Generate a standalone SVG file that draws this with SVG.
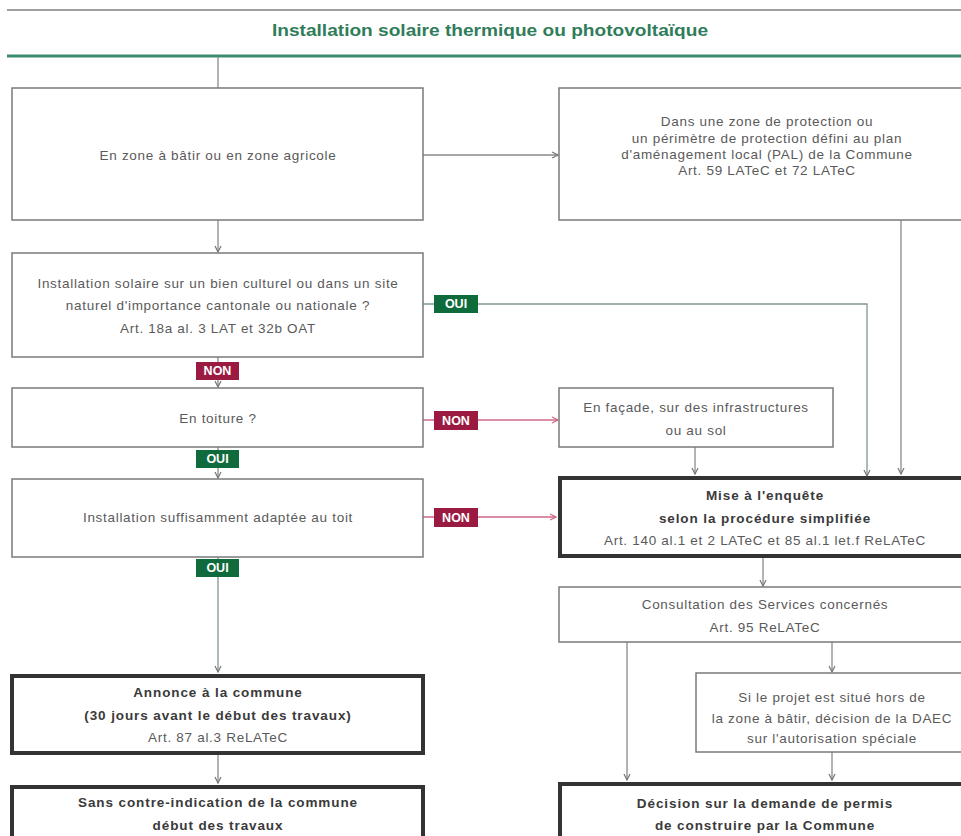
<svg xmlns="http://www.w3.org/2000/svg" width="961" height="836" viewBox="0 0 961 836">
<style>
.bg{fill:#ffffff}
.box{fill:#ffffff;stroke:#7a7a7a;stroke-width:1.5}
.thick{fill:#ffffff;stroke:#333333;stroke-width:4}
.t{font-family:"Liberation Sans",Arial,sans-serif;font-size:13.5px;letter-spacing:0.7px;fill:#5a5a5a;text-anchor:middle;dominant-baseline:central}
.b{font-family:"Liberation Sans",Arial,sans-serif;font-size:13.5px;letter-spacing:0.9px;fill:#3a3a3a;font-weight:bold;text-anchor:middle;dominant-baseline:central}
.title{font-family:"Liberation Sans",Arial,sans-serif;font-size:17px;fill:#2f7d5a;font-weight:bold;text-anchor:middle;dominant-baseline:central}
.lbl{font-family:"Liberation Sans",Arial,sans-serif;font-size:12.5px;fill:#ffffff;font-weight:bold;text-anchor:middle;dominant-baseline:central}
.oui{fill:#0f6b3c}
.non{fill:#9a1a42}
.c{fill:none;stroke:#8a8a8a;stroke-width:1.3}
.cg{fill:none;stroke:#7f9890;stroke-width:1.3}
.cr{fill:none;stroke:#cf6a86;stroke-width:1.3}
</style>
<defs>
<marker id="ah" markerWidth="8" markerHeight="8" refX="7" refY="4" orient="auto" markerUnits="userSpaceOnUse">
<path d="M1,1 L7,4 L1,7" fill="none" stroke="#777777" stroke-width="1.2"/>
</marker>
<marker id="ahr" markerWidth="8" markerHeight="8" refX="7" refY="4" orient="auto" markerUnits="userSpaceOnUse">
<path d="M1,1 L7,4 L1,7" fill="none" stroke="#cf6a86" stroke-width="1.2"/>
</marker>
</defs>
<rect class="bg" x="0" y="0" width="961" height="836"/>

<g id="header">
<line x1="7" y1="10" x2="961" y2="10" stroke="#a0a0a0" stroke-width="2"/>
<text class="title" x="490" y="30" textLength="436" lengthAdjust="spacingAndGlyphs">Installation solaire thermique ou photovoltaïque</text>
<line x1="7" y1="56" x2="961" y2="56" stroke="#3d8b6d" stroke-width="3"/>
</g>

<g id="connectors">
<path class="c" d="M218,57 V88"/>
<path class="c" d="M423,155 H558" marker-end="url(#ah)"/>
<path class="c" d="M218,220 V252" marker-end="url(#ah)"/>
<path class="cg" d="M423,304 H434 M478,304 H867 V476" marker-end="url(#ah)"/>
<path class="c" d="M218,357 V362 M218,380 V387" marker-end="url(#ah)"/>
<path class="cr" d="M423,420 H434 M478,420 H558" marker-end="url(#ahr)"/>
<path class="c" d="M218,447 V450 M218,468 V478" marker-end="url(#ah)"/>
<path class="cr" d="M423,517 H434 M478,517 H556" marker-end="url(#ahr)"/>
<path class="cg" d="M218,557 V559 M218,577 V672" marker-end="url(#ah)"/>
<path class="c" d="M218,753 V783" marker-end="url(#ah)"/>
<path class="c" d="M901,220 V474" marker-end="url(#ah)"/>
<path class="c" d="M695,447 V474" marker-end="url(#ah)"/>
<path class="c" d="M763,557 V586" marker-end="url(#ah)"/>
<path class="c" d="M627,642 V780" marker-end="url(#ah)"/>
<path class="c" d="M832,642 V672" marker-end="url(#ah)"/>
<path class="c" d="M832,752 V780" marker-end="url(#ah)"/>
</g>

<g id="n-zone">
<rect class="box" x="12" y="88" width="411" height="132"/>
<text class="t" x="218" y="155">En zone à bâtir ou en zone agricole</text>
</g>

<g id="n-protection">
<rect class="box" x="559" y="88" width="420" height="132"/>
<text class="t" x="767" y="121">Dans une zone de protection ou</text>
<text class="t" x="767" y="138">un périmètre de protection défini au plan</text>
<text class="t" x="767" y="154">d'aménagement local (PAL) de la Commune</text>
<text class="t" x="767" y="170">Art. 59 LATeC et 72 LATeC</text>
</g>

<g id="n-bien-culturel">
<rect class="box" x="12" y="253" width="411" height="104"/>
<text class="t" x="218" y="283">Installation solaire sur un bien culturel ou dans un site</text>
<text class="t" x="218" y="305">naturel d'importance cantonale ou nationale ?</text>
<text class="t" x="218" y="328">Art. 18a al. 3 LAT et 32b OAT</text>
</g>

<g id="n-toiture">
<rect class="box" x="12" y="388" width="411" height="59"/>
<text class="t" x="218" y="418">En toiture ?</text>
</g>

<g id="n-facade">
<rect class="box" x="559" y="388" width="274" height="59"/>
<text class="t" x="696" y="407">En façade, sur des infrastructures</text>
<text class="t" x="696" y="430">ou au sol</text>
</g>

<g id="n-adaptee">
<rect class="box" x="12" y="479" width="411" height="78"/>
<text class="t" x="218" y="517">Installation suffisamment adaptée au toit</text>
</g>

<g id="n-enquete">
<rect class="thick" x="560" y="478" width="420" height="78"/>
<text class="b" x="765" y="495">Mise à l'enquête</text>
<text class="b" x="765" y="518">selon la procédure simplifiée</text>
<text class="t" x="765" y="540">Art. 140 al.1 et 2 LATeC et 85 al.1 let.f ReLATeC</text>
</g>

<g id="n-consultation">
<rect class="box" x="559" y="587" width="420" height="55"/>
<text class="t" x="765" y="604">Consultation des Services concernés</text>
<text class="t" x="765" y="627">Art. 95 ReLATeC</text>
</g>

<g id="n-daec">
<rect class="box" x="696" y="673" width="272" height="79"/>
<text class="t" x="832" y="697">Si le projet est situé hors de</text>
<text class="t" x="832" y="718">la zone à bâtir, décision de la DAEC</text>
<text class="t" x="832" y="738">sur l'autorisation spéciale</text>
</g>

<g id="n-annonce">
<rect class="thick" x="12" y="676" width="411" height="77"/>
<text class="b" x="218" y="692">Annonce à la commune</text>
<text class="b" x="218" y="715">(30 jours avant le début des  travaux)</text>
<text class="t" x="218" y="737">Art. 87 al.3 ReLATeC</text>
</g>

<g id="n-sans">
<rect class="thick" x="12" y="787" width="411" height="70"/>
<text class="b" x="218" y="802">Sans contre-indication de la commune</text>
<text class="b" x="218" y="825">début des travaux</text>
</g>

<g id="n-decision">
<rect class="thick" x="560" y="784" width="420" height="70"/>
<text class="b" x="765" y="803">Décision sur la demande de permis</text>
<text class="b" x="765" y="825">de construire par la Commune</text>
</g>

<g id="labels">
<rect class="oui" x="434" y="295" width="44" height="18"/>
<text class="lbl" x="456" y="304">OUI</text>
<rect class="non" x="196" y="362" width="43" height="18"/>
<text class="lbl" x="217.5" y="371">NON</text>
<rect class="non" x="434" y="411" width="44" height="19"/>
<text class="lbl" x="456" y="420.5">NON</text>
<rect class="oui" x="196" y="450" width="43" height="18"/>
<text class="lbl" x="217.5" y="459">OUI</text>
<rect class="non" x="434" y="508" width="44" height="19"/>
<text class="lbl" x="456" y="517.5">NON</text>
<rect class="oui" x="196" y="559" width="43" height="18"/>
<text class="lbl" x="217.5" y="568">OUI</text>
</g>
</svg>
